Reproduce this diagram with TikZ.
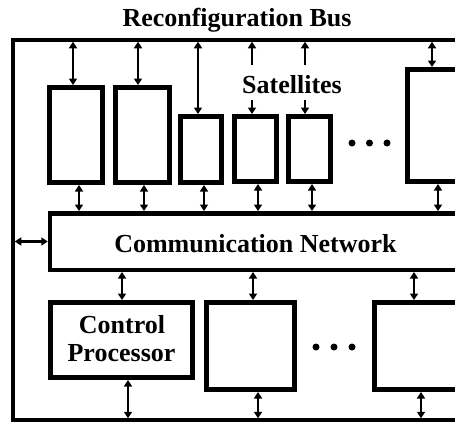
\documentclass[tikz,border=0pt]{standalone}
\usepackage{fontspec}
\setmainfont{Liberation Serif}
\usetikzlibrary{arrows.meta}
\begin{document}
\begin{tikzpicture}[x=1pt,y=-1pt,
  sat/.style={draw, line width=5pt, inner sep=0pt},
  net/.style={draw, line width=4.5pt, inner sep=0pt},
  frame/.style={line width=3.5pt},
  arr/.style={line width=2.5pt, {Triangle[length=6.5pt,width=8pt]}-{Triangle[length=6.5pt,width=8pt]}},
  uarr/.style={line width=2.5pt, -{Triangle[length=6.5pt,width=8pt]}},
  lbl/.style={font=\bfseries\fontsize{26}{28}\selectfont, inner sep=0pt, anchor=base},
  dot/.style={circle, fill, inner sep=0pt, minimum size=7pt}]
\useasboundingbox (0,0) rectangle (455,423);
\clip (0,0) rectangle (455,423);
% outer frame (reconfiguration bus)
\draw[frame] (490,40) -- (13,40) -- (13,420) -- (490,420);
\coordinate (topbus) at (0,41.75);
\coordinate (botbus) at (0,418.25);
\coordinate (leftbus) at (14.75,0);
% title
\node[lbl] (title) at (237,27) {Reconfiguration Bus};
% satellites
\node[sat, minimum width=53pt, minimum height=95pt] (b1) at (76,135) {};
\node[sat, minimum width=54pt, minimum height=95pt] (b2) at (142.5,135) {};
\node[sat, minimum width=41pt, minimum height=66pt] (b3) at (201,149.5) {};
\node[sat, minimum width=42pt, minimum height=65pt] (b4) at (255.5,149) {};
\node[sat, minimum width=42pt, minimum height=65pt] (b5) at (309.5,149) {};
\node[sat, minimum width=75pt, minimum height=112pt] (b6) at (445,125.5) {};
\node[lbl] (satl) at (292,93) {Satellites};
\node[dot] (d1) at (352,143) {};
\node[dot] (d2) at (369.5,143) {};
\node[dot] (d3) at (387,143) {};
% communication network
\node[net, minimum width=440pt, minimum height=56.5pt] (net) at (270,241.5) {};
\node[lbl] (netl) at (255.5,252) {Communication Network};
% bottom row
\node[sat, minimum width=142pt, minimum height=75pt] (cp) at (121.5,340) {};
\node[lbl] (cpl1) at (122,333) {Control};
\node[lbl] (cpl2) at (121.5,361) {Processor};
\node[sat, minimum width=88pt, minimum height=87pt] (m1) at (250.5,346) {};
\node[sat, minimum width=113pt, minimum height=87pt] (m2) at (431,346) {};
\node[dot] (d4) at (316,347) {};
\node[dot] (d5) at (334,347) {};
\node[dot] (d6) at (352,347) {};
% arrows top bus <-> satellites
\path ([xshift=-3pt]b1.north) coordinate (b1t);
\path ([xshift=-4.5pt]b2.north) coordinate (b2t);
\path ([xshift=-3pt]b3.north) coordinate (b3t);
\path ([xshift=-13pt]b6.north) coordinate (b6t);
\draw[arr] (b1t) -- (b1t |- topbus);
\draw[arr] (b2t) -- (b2t |- topbus);
\draw[arr] (b3t) -- (b3t |- topbus);
\draw[arr] (b6t) -- (b6t |- topbus);
\coordinate (s4u) at (252,65);
\coordinate (s4d) at (252,100);
\coordinate (s5u) at (305,65);
\coordinate (s5d) at (305,100);
\draw[uarr] (s4u) -- (s4u |- topbus);
\draw[uarr] (s5u) -- (s5u |- topbus);
\draw[uarr] (s4d) -- (s4d |- b4.north);
\draw[uarr] (s5d) -- (s5d |- b5.north);
% arrows satellites <-> network
\path ([xshift=3pt]b1.south) coordinate (b1b);
\path ([xshift=1.5pt]b2.south) coordinate (b2b);
\path ([xshift=3pt]b3.south) coordinate (b3b);
\path ([xshift=2.5pt]b4.south) coordinate (b4b);
\path ([xshift=2.5pt]b5.south) coordinate (b5b);
\path ([xshift=-7pt]b6.south) coordinate (b6b);
\foreach \c in {b1b,b2b,b3b,b4b,b5b,b6b}
  \draw[arr] (\c) -- (\c |- net.north);
% left arrow
\draw[arr] (net.west) -- (net.west -| leftbus);
% network <-> bottom row
\path ([xshift=0.5pt]cp.north) coordinate (cpt);
\path ([xshift=2.5pt]m1.north) coordinate (m1t);
\path ([xshift=-17pt]m2.north) coordinate (m2t);
\foreach \c in {cpt,m1t,m2t}
  \draw[arr] (\c) -- (\c |- net.south);
% bottom row <-> bottom bus
\path ([xshift=6.5pt]cp.south) coordinate (cpb);
\path ([xshift=7.5pt]m1.south) coordinate (m1b);
\path ([xshift=-10pt]m2.south) coordinate (m2b);
\foreach \c in {cpb,m1b,m2b}
  \draw[arr] (\c) -- (\c |- botbus);
\end{tikzpicture}
\end{document}
